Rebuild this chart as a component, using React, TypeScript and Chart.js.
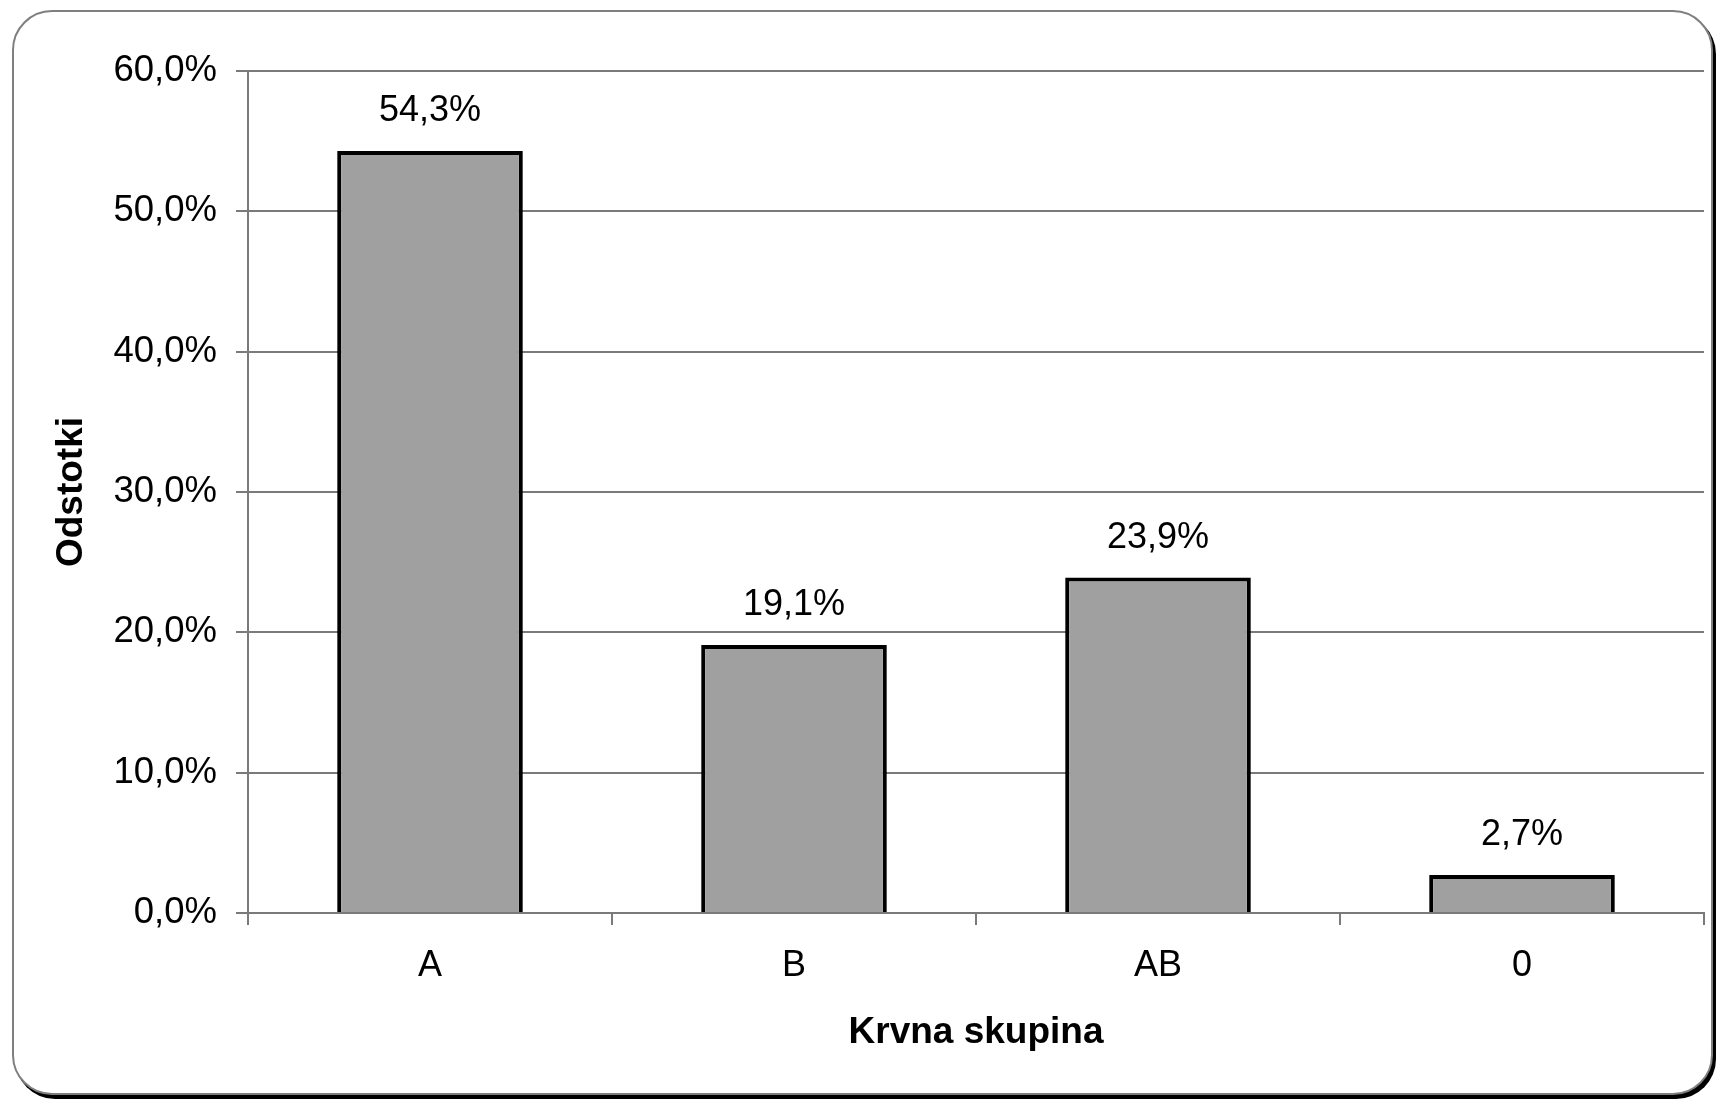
import React, { useEffect, useRef } from "react";
import { Chart, registerables } from "chart.js";

Chart.register(...registerables);

const categories: string[] = ["A", "B", "AB", "0"];
const percentages: number[] = [54.3, 19.1, 23.9, 2.7];
const yTickValues: number[] = [0, 10, 20, 30, 40, 50, 60];
const yTitle = "Odstotki";
const xTitle = "Krvna skupina";

const FONT = "'Liberation Sans', Arial, sans-serif";
const fmt = (v: number) => v.toFixed(1).replace(".", ",") + "%";

const valueLabels = {
  id: "valueLabels",
  afterDatasetsDraw(chart: any) {
    const ctx = chart.ctx;
    const meta = chart.getDatasetMeta(0);
    ctx.save();
    ctx.font = `36px ${FONT}`;
    ctx.fillStyle = "#000";
    ctx.textAlign = "center";
    ctx.textBaseline = "middle";
    meta.data.forEach((bar: any, i: number) => {
      ctx.fillText(fmt(percentages[i]), bar.x, bar.y - 40);
    });
    ctx.restore();
  },
};

export default function App() {
  const ref = useRef<HTMLCanvasElement>(null);
  useEffect(() => {
    if (!ref.current) return;
    const chart = new Chart(ref.current, {
      type: "bar",
      data: {
        labels: categories,
        datasets: [
          {
            data: percentages,
            backgroundColor: "#a0a0a0",
            borderColor: "#000",
            borderWidth: 4,
            barPercentage: 0.51,
            categoryPercentage: 1,
          },
        ],
      },
      options: {
        animation: false,
        responsive: false,
        maintainAspectRatio: false,
        devicePixelRatio: 1,
        layout: { padding: { left: 0, top: 71, right: 14, bottom: 0 } },
        plugins: { legend: { display: false }, tooltip: { enabled: false } },
        scales: {
          x: {
            offset: true,
            grid: {
              display: true,
              drawOnChartArea: false,
              drawTicks: true,
              tickLength: 12,
              offset: true,
              color: "#7a7a7a",
              lineWidth: 2,
            },
            border: { display: true, color: "#7a7a7a", width: 2 },
            ticks: {
              color: "#000",
              font: { family: FONT, size: 36 },
              padding: 19,
              maxRotation: 0,
            },
            title: {
              display: true,
              text: xTitle,
              color: "#000",
              font: { family: FONT, size: 37, weight: "bold" },
              padding: { top: 0, bottom: 46 },
            },
            afterFit(scale: any) {
              scale.height = 188;
            },
          },
          y: {
            min: 0,
            max: 60,
            afterBuildTicks(scale: any) {
              scale.ticks = yTickValues.map((v) => ({ value: v }));
            },
            grid: {
              color: "#7a7a7a",
              lineWidth: 2,
              drawTicks: true,
              tickLength: 12,
            },
            border: { display: true, color: "#7a7a7a", width: 2 },
            ticks: {
              color: "#000",
              font: { family: FONT, size: 36.5 },
              padding: 19,
              callback: (v: any) => fmt(Number(v)),
            },
            title: {
              display: true,
              text: yTitle,
              color: "#000",
              font: { family: FONT, size: 37, weight: "bold" },
              padding: { top: 50, bottom: 0 },
            },
            afterFit(scale: any) {
              scale.width = 248;
            },
          },
        },
      },
      plugins: [valueLabels],
    } as any);
    return () => chart.destroy();
  }, []);

  return (
    <div
      style={{
        position: "fixed",
        left: 0,
        top: 0,
        width: 1718,
        height: 1101,
        background: "#fff",
        overflow: "hidden",
      }}
    >
      <div
        style={{
          position: "absolute",
          left: 12,
          top: 10,
          width: 1701,
          height: 1085,
          boxSizing: "border-box",
          border: "2px solid #7f7f7f",
          borderRadius: 40,
          boxShadow: "3px 4px 0 #000",
          background: "#fff",
        }}
      />
      <canvas
        ref={ref}
        width={1718}
        height={1101}
        style={{ position: "absolute", left: 0, top: 0, width: 1718, height: 1101 }}
      />
    </div>
  );
}
